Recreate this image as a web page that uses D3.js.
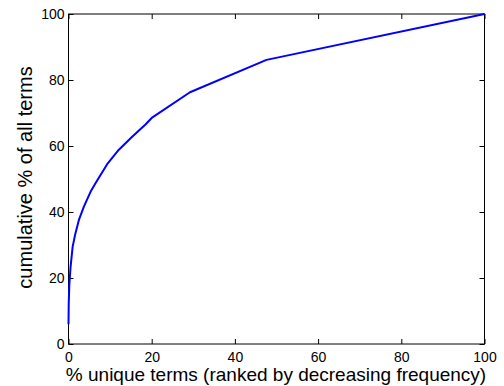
<!DOCTYPE html>
<html>
<head>
<meta charset="utf-8">
<script src="https://cdn.jsdelivr.net/npm/d3@7"></script>
<style>
  body { margin: 0; background: #fff; }
  svg { display: block; }
  text { font-family: "Liberation Sans", Arial, Helvetica, sans-serif; fill: #000; }
</style>
</head>
<body>
<div id="chart"></div>
<script>
// % unique terms (ranked by frequency) vs cumulative % of all terms
var pctUnique = [0, 0.05, 0.2, 0.5, 1.0, 1.6, 2.5, 3.7, 4.4, 5.3, 6.45, 9.25, 12.05, 15.3, 18.5, 20, 29.2, 47.6, 100];
var pctTerms  = [6, 12, 18, 23.4, 29.5, 33.2, 37.6, 41.6, 43.6, 46.1, 48.6, 54.4, 58.8, 62.8, 66.5, 68.5, 76.3, 86.1, 100];
var xTicks = [0, 20, 40, 60, 80, 100];
var yTicks = [0, 20, 40, 60, 80, 100];

var width = 504, height = 386;
var margin = {left: 68.5, right: 19.5, top: 14, bottom: 42};

var svg = d3.select("#chart").append("svg")
    .attr("width", width)
    .attr("height", height);

var x = d3.scaleLinear().domain([0, 100]).range([margin.left, width - margin.right]);
var y = d3.scaleLinear().domain([0, 100]).range([height - margin.bottom, margin.top]);

// bottom & left axes with labels, inward ticks
var tickLen = 5;
svg.append("g")
    .attr("transform", "translate(0," + y(0) + ")")
    .call(d3.axisBottom(x).tickValues(xTicks).tickSizeInner(-tickLen).tickSizeOuter(0).tickPadding(8))
    .call(function(g){ g.select(".domain").remove(); });
svg.append("g")
    .attr("transform", "translate(" + x(0) + ",0)")
    .call(d3.axisLeft(y).tickValues(yTicks).tickSizeInner(-tickLen).tickSizeOuter(0).tickPadding(4))
    .call(function(g){ g.select(".domain").remove(); });
// top & right ticks, no labels
svg.append("g")
    .attr("transform", "translate(0," + y(100) + ")")
    .call(d3.axisTop(x).tickValues(xTicks).tickSizeInner(-tickLen).tickSizeOuter(0).tickFormat(""))
    .call(function(g){ g.select(".domain").remove(); });
svg.append("g")
    .attr("transform", "translate(" + x(100) + ",0)")
    .call(d3.axisRight(y).tickValues(yTicks).tickSizeInner(-tickLen).tickSizeOuter(0).tickFormat(""))
    .call(function(g){ g.select(".domain").remove(); });

svg.selectAll(".tick text").attr("font-size", 14).attr("font-family", null).attr("fill", "#000");
svg.selectAll(".tick line").attr("stroke", "#000");

// axes box
svg.append("rect")
    .attr("x", x(0)).attr("y", y(100))
    .attr("width", x(100) - x(0)).attr("height", y(0) - y(100))
    .attr("fill", "none").attr("stroke", "#000").attr("stroke-width", 1);

var line = d3.line()
    .x(function(d, i){ return x(pctUnique[i]); })
    .y(function(d){ return y(d); });

svg.append("path")
    .datum(pctTerms)
    .attr("d", line)
    .attr("fill", "none")
    .attr("stroke", "#0000ff")
    .attr("stroke-width", 2)
    .attr("stroke-linejoin", "round");

svg.append("text")
    .attr("x", 276)
    .attr("y", 381)
    .attr("text-anchor", "middle")
    .attr("font-size", 19)
    .text("% unique terms (ranked by decreasing frequency)");

svg.append("text")
    .attr("transform", "translate(32,177.5) rotate(-90)")
    .attr("text-anchor", "middle")
    .attr("font-size", 20)
    .text("cumulative % of all terms");
</script>
</body>
</html>
